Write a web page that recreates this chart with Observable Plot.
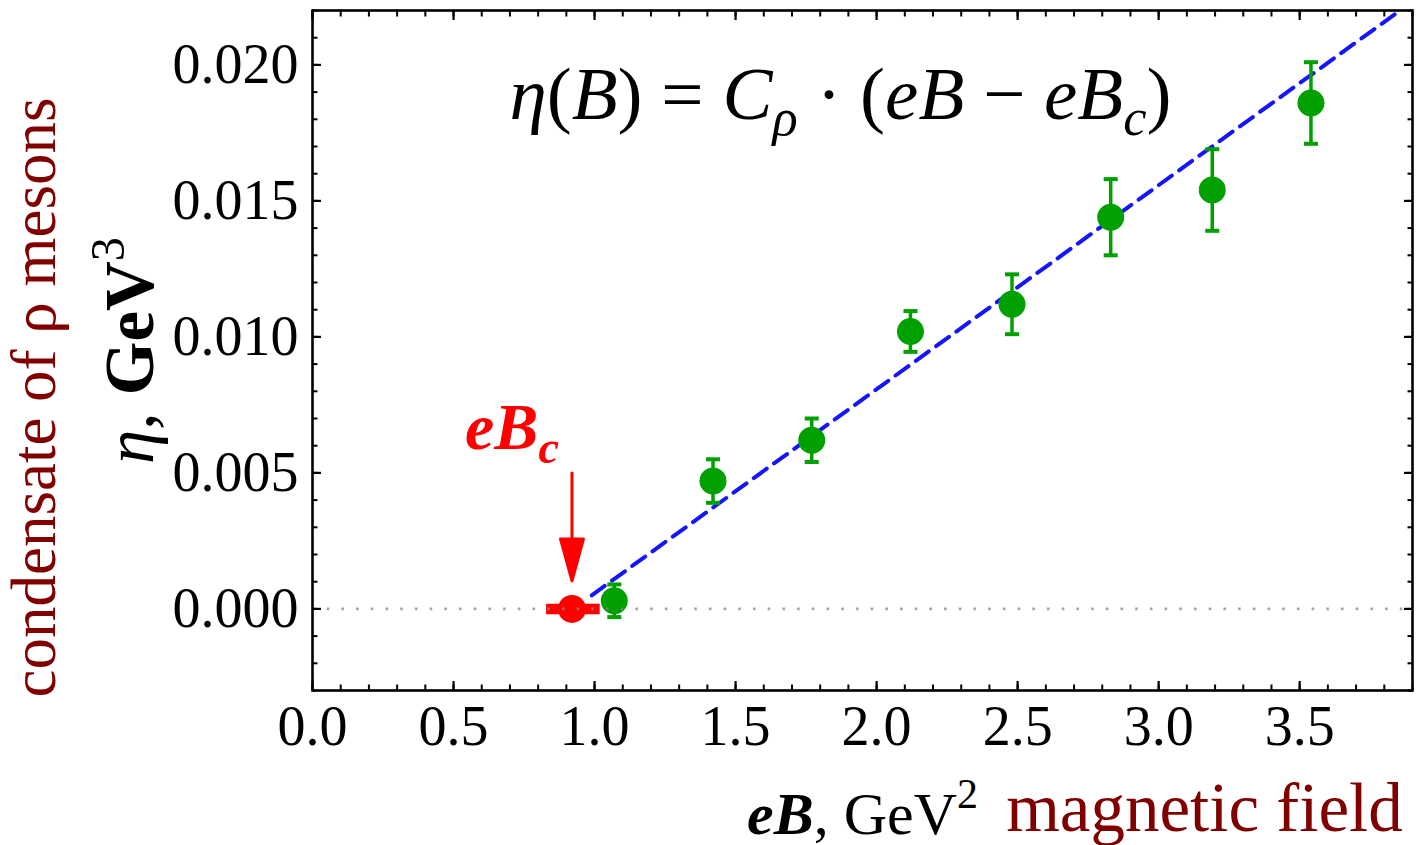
<!DOCTYPE html>
<html><head><meta charset="utf-8">
<script src="https://cdn.jsdelivr.net/npm/d3@7"></script>
<script src="https://cdn.jsdelivr.net/npm/@observablehq/plot@0.6"></script>
<style>html,body{margin:0;padding:0;background:#fff}</style>
</head><body><div id="chart"></div>
<script>
// ---- data ----
const eB      = [1.07, 1.42, 1.77, 2.12, 2.48, 2.83, 3.19, 3.54];
const eta     = [0.0003, 0.0047, 0.0062, 0.0102, 0.0112, 0.0144, 0.0154, 0.0186];
const etaErr  = [0.0006, 0.0008, 0.0008, 0.00075, 0.0011, 0.0014, 0.0015, 0.0015];
const eBcVal  = [0.92];
const eBcLo   = [0.83];
const eBcHi   = [1.02];
const fitX    = [0.99, 3.9];
const fitY    = [0.0005, 0.02233];
const xTicks  = [0, 0.5, 1.0, 1.5, 2.0, 2.5, 3.0, 3.5];
const xTickLabels = ["0.0", "0.5", "1.0", "1.5", "2.0", "2.5", "3.0", "3.5"];
const yTicks  = [0, 0.005, 0.010, 0.015, 0.020];
const yTickLabels = ["0.000", "0.005", "0.010", "0.015", "0.020"];
const xMinor  = d3.range(0, 40).map(i => i / 10);
const yMinor  = d3.range(-3, 23).map(i => i / 1000);
const formulaText = "η(B) = Cρ · (eB − eBc)";
const yLabelText = "η, GeV3";
const xLabelText = "eB, GeV2";
const yNoteText = "condensate of ρ mesons";
const xNoteText = "magnetic field";
const critLabelText = "eBc";

const points = eB.map((x, i) => ({x, y: eta[i], lo: eta[i] - etaErr[i], hi: eta[i] + etaErr[i]}));
const crit = eBcVal.map((x, i) => ({x, y: 0, lo: eBcLo[i], hi: eBcHi[i]}));
const fit = fitX.map((x, i) => ({x, y: fitY[i]}));

const GREEN = "#00a000", RED = "#ff0000", BLUE = "#1414ff", DARKRED = "#800000";
const SERIF = "'Liberation Serif', 'Times New Roman', serif";

const capSymbol = {draw(ctx) { ctx.moveTo(-7, 0); ctx.lineTo(7, 0); }};
const arrowShape = {draw(ctx, l) {
  const h = 42, w = 11.5;
  ctx.moveTo(0, 0); ctx.lineTo(0, -l + h);
  ctx.moveTo(-w, -l + h); ctx.lineTo(0, -l); ctx.lineTo(w, -l + h); ctx.closePath();
}};

const tickAxes = [];
for (const [anchor, k] of [["bottom","x"],["top","x"],["left","y"],["right","y"]]) {
  const ax = k === "x" ? Plot.axisX : Plot.axisY;
  tickAxes.push(ax(k === "x" ? xMinor : yMinor, {anchor, tickSize: -5.5, tickFormat: () => "", strokeWidth: 2, label: null}));
  tickAxes.push(ax(k === "x" ? xTicks : yTicks, {anchor, tickSize: -9, tickFormat: () => "", strokeWidth: 2.2, label: null}));
}

const plot = Plot.plot({
  width: 1425, height: 845,
  marginLeft: 312, marginRight: 13, marginTop: 10, marginBottom: 155,
  style: {fontFamily: SERIF, background: "#fff", overflow: "visible"},
  x: {domain: [0, 3.9]},
  y: {domain: [-0.003, 0.022]},
  marks: [
    Plot.line(fit, {x: "x", y: "y", stroke: BLUE, strokeWidth: 4, strokeDasharray: "16,9", clip: true}),
    Plot.ruleY(crit, {y: "y", x1: "lo", x2: "hi", stroke: RED, strokeWidth: 10.5}),
    Plot.dot(crit, {x: "x", y: "y", r: 14, fill: RED}),
    Plot.ruleX(points, {x: "x", y1: "lo", y2: "hi", stroke: GREEN, strokeWidth: 3.5}),
    Plot.dot(points, {x: "x", y: "lo", symbol: capSymbol, stroke: GREEN, strokeWidth: 4}),
    Plot.dot(points, {x: "x", y: "hi", symbol: capSymbol, stroke: GREEN, strokeWidth: 4}),
    Plot.dot(points, {x: "x", y: "y", r: 13.5, fill: GREEN}),
    Plot.ruleY([0], {stroke: "#888", strokeOpacity: 0.75, strokeWidth: 2.6, strokeDasharray: "2.6,12.1"}),
    Plot.vector(crit, {x: "x", y: "y", length: 108, rotate: 180, anchor: "end", shape: arrowShape,
      stroke: RED, fill: RED, strokeWidth: 3, dy: -28}),
    Plot.text(crit, {x: "x", y: "y", text: () => critLabelText, dx: -60, dy: -160, lineAnchor: "bottom",
      fill: RED, fontSize: 66, fontFamily: SERIF}),
    Plot.text([formulaText], {frameAnchor: "top", text: d => d, dx: -22, dy: 108, lineAnchor: "bottom",
      textAnchor: "middle", fontSize: 75, fontFamily: SERIF, fill: "#000"}),
    Plot.text([yLabelText], {frameAnchor: "left", text: d => d, dx: -160, dy: 0, rotate: -90, lineAnchor: "bottom",
      textAnchor: "middle", fontSize: 69, fontFamily: SERIF, fill: "#000"}),
    Plot.text([xLabelText], {frameAnchor: "bottom", text: d => d, dx: 0, dy: 143, lineAnchor: "bottom",
      textAnchor: "middle", fontSize: 60, fontFamily: SERIF, fill: "#000"}),
    Plot.text([yNoteText], {frameAnchor: "left", text: d => d, dx: -258, dy: 47, rotate: -90, lineAnchor: "bottom",
      textAnchor: "middle", fontSize: 63, fontFamily: SERIF, fill: DARKRED}),
    Plot.text([xNoteText], {frameAnchor: "bottom", text: d => d, dx: 342, dy: 140, lineAnchor: "bottom",
      textAnchor: "middle", fontSize: 69, fontFamily: SERIF, fill: DARKRED}),
    Plot.axisX(xTicks, {anchor: "bottom", tickSize: 0, tickPadding: 15, tickFormat: (d, i) => xTickLabels[i],
      fontSize: 56, fontFamily: SERIF, fill: "#000", label: null}),
    Plot.axisY(yTicks, {anchor: "left", tickSize: 0, tickPadding: 14, tickFormat: (d, i) => yTickLabels[i],
      fontSize: 56, fontFamily: SERIF, fill: "#000", label: null}),
    ...tickAxes,
    Plot.frame({stroke: "#000", strokeWidth: 2.6})
  ]
});
document.getElementById("chart").appendChild(plot);

// rich text (italics, sub/superscripts) built on the Plot text elements
const richSpecs = {
  [formulaText]: [["η","i"],["(",""],["B","i"],[")",""],["\u00a0=\u00a0",""],["C","i"],["ρ","i sub"],["\u00a0·\u00a0",""],["(",""],["eB","i"],["\u00a0−\u00a0",""],["eB","i"],["c","i sub"],[")",""]],
  [yLabelText]: [["η","i"],[",\u00a0",""],["GeV","b"],["3","sup"]],
  [xLabelText]: [["eB","i b"],[", GeV",""],["2","sup"]],
  [critLabelText]: [["eB","i b"],["c","i b sub"]]
};
d3.select(plot).selectAll("text").each(function() {
  const spec = richSpecs[this.textContent];
  if (!spec) return;
  const base = parseFloat(getComputedStyle(this).fontSize) || 60;
  const sel = d3.select(this).style("white-space", "pre");
  sel.text(null);
  let shift = 0;
  for (const [t, f] of spec) {
    const flags = f.split(" ");
    const small = flags.includes("sub") || flags.includes("sup");
    const want = flags.includes("sub") ? base * 0.22 : flags.includes("sup") ? -base * 0.42 : 0;
    const ts = sel.append("tspan").text(t).attr("dy", want - shift);
    shift = want;
    if (flags.includes("i")) ts.attr("font-style", "italic");
    if (flags.includes("b")) ts.attr("font-weight", "bold");
    if (small) ts.attr("font-size", base * 0.7);
  }
});
</script>
</body></html>
